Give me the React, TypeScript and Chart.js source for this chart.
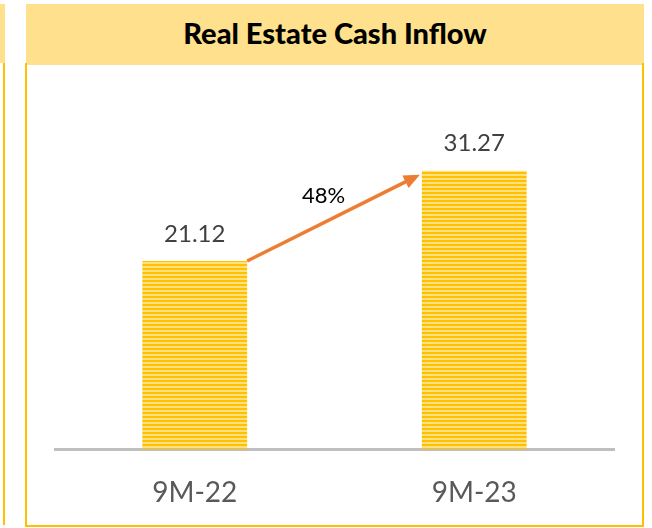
import React, { useEffect, useRef } from "react";
import { Chart, registerables } from "chart.js";

Chart.register(...registerables);

const categories: string[] = ["9M-22", "9M-23"];
const cashInflow: number[] = [21.12, 31.27];
const valueLabels: string[] = ["21.12", "31.27"];
const growthLabel = "48%";
const title = "Real Estate Cash Inflow";

const FONT = "Lato, 'Open Sans', sans-serif";

function makeStripes(ctx: CanvasRenderingContext2D): CanvasPattern | string {
  const c = document.createElement("canvas");
  c.width = 4;
  c.height = 4;
  const g = c.getContext("2d");
  if (!g) return "#FFC000";
  g.fillStyle = "#FFE080";
  g.fillRect(0, 0, 4, 4);
  g.fillStyle = "#FFC000";
  g.fillRect(0, 0, 4, 2);
  return ctx.createPattern(c, "repeat") || "#FFC000";
}

const overlay = {
  id: "overlay",
  afterDatasetsDraw(chart: any) {
    const ctx: CanvasRenderingContext2D = chart.ctx;
    const meta = chart.getDatasetMeta(0);
    const bars = meta.data;
    ctx.save();
    // value labels
    ctx.font = `24px ${FONT}`;
    ctx.fillStyle = "#404040";
    ctx.textAlign = "center";
    ctx.textBaseline = "middle";
    bars.forEach((b: any, i: number) => {
      ctx.fillText(valueLabels[i], b.x, b.y - 27);
    });
    // arrow
    const b0 = bars[0];
    const b1 = bars[1];
    const x0 = b0.x + b0.width / 2;
    const y0 = b0.y;
    const x1 = b1.x - b1.width / 2 - 2;
    const y1 = b1.y + 4;
    const ang = Math.atan2(y1 - y0, x1 - x0);
    const head = 16;
    const half = 7;
    ctx.strokeStyle = "#ED7D31";
    ctx.fillStyle = "#ED7D31";
    ctx.lineWidth = 3.5;
    ctx.beginPath();
    ctx.moveTo(x0, y0);
    ctx.lineTo(x1 - head * 0.8 * Math.cos(ang), y1 - head * 0.8 * Math.sin(ang));
    ctx.stroke();
    ctx.beginPath();
    ctx.moveTo(x1, y1);
    ctx.lineTo(
      x1 - head * Math.cos(ang) + half * Math.sin(ang),
      y1 - head * Math.sin(ang) - half * Math.cos(ang)
    );
    ctx.lineTo(
      x1 - head * Math.cos(ang) - half * Math.sin(ang),
      y1 - head * Math.sin(ang) + half * Math.cos(ang)
    );
    ctx.closePath();
    ctx.fill();
    // growth label
    ctx.font = `22px ${FONT}`;
    ctx.fillStyle = "#000000";
    ctx.fillText(growthLabel, (x0 + x1) / 2 - 10, (y0 + y1) / 2 - 22);
    ctx.restore();
  },
};

export default function App() {
  const ref = useRef<HTMLCanvasElement | null>(null);

  useEffect(() => {
    const canvas = ref.current;
    if (!canvas) return;
    const ctx = canvas.getContext("2d")!;
    const pattern = makeStripes(ctx);
    const chart = new Chart(canvas, {
      type: "bar",
      data: {
        labels: categories,
        datasets: [
          {
            data: cashInflow,
            backgroundColor: pattern as any,
            borderWidth: 0,
            barPercentage: 1,
            categoryPercentage: 0.375,
          },
        ],
      },
      options: {
        animation: false,
        responsive: false,
        maintainAspectRatio: false,
        layout: { padding: { left: 55, right: 38, top: 93, bottom: 0 } },
        plugins: {
          legend: { display: false },
          tooltip: { enabled: false },
          title: { display: false },
        },
        scales: {
          x: {
            grid: { display: false, drawTicks: false },
            border: { display: true, color: "#BFBFBF", width: 3 },
            ticks: {
              color: "#595959",
              font: { family: FONT, size: 28 },
              padding: 27,
            },
            afterFit: (axis: any) => {
              axis.height = 79;
            },
          },
          y: {
            display: false,
            min: 0,
            max: 40,
          },
        },
      },
      plugins: [overlay],
    });
    return () => chart.destroy();
  }, []);

  return (
    <div style={{ position: "absolute", left: 0, top: 0, width: 652, height: 528, background: "#fff", overflow: "hidden" }}>
      {/* fragment of neighbouring panel */}
      <div style={{ position: "absolute", left: 0, top: 4, width: 5, height: 59, background: "#FFE08C" }} />
      <div style={{ position: "absolute", left: 3, top: 63, width: 2, height: 462, background: "#FFC000" }} />
      {/* main panel */}
      <div style={{ position: "absolute", left: 26, top: 4, width: 618, height: 61, background: "#FFE08C", display: "flex", alignItems: "center", justifyContent: "center" }}>
        <span style={{ fontFamily: FONT, fontWeight: 900, fontSize: 29, color: "#000", position: "relative", left: 0, top: -2 }}>{title}</span>
      </div>
      <div style={{ position: "absolute", left: 25, top: 63, width: 615, height: 462, borderLeft: "2px solid #FFC000", borderRight: "2px solid #FFC000", borderBottom: "2px solid #FFC000" }} />
      <canvas ref={ref} width={652} height={528} style={{ position: "absolute", left: 0, top: 0, width: 652, height: 528 }} />
    </div>
  );
}
